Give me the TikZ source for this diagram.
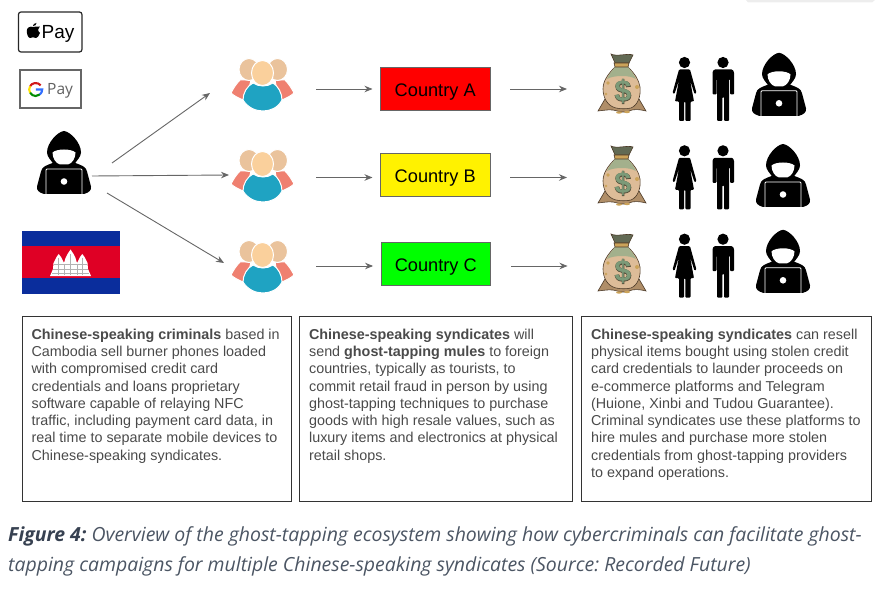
\documentclass[tikz,border=0pt]{standalone}
\usepackage{fontspec}
\setmainfont{Liberation Sans}
\newfontfamily\capfont{Open Sans}
\newfontfamily\payfont{Open Sans}
\newfontfamily\dollarfat[FakeBold=2.5]{Liberation Sans Bold}
\usetikzlibrary{arrows.meta}
\definecolor{txtGray}{HTML}{4A4A4A}
\definecolor{capGray}{HTML}{4B5563}
\definecolor{capDark}{HTML}{374151}
\definecolor{arrGray}{HTML}{666666}
\definecolor{khBlue}{HTML}{0A2D9C}
\definecolor{khRed}{HTML}{DF0025}
\definecolor{salmonC}{HTML}{EF8070}
\definecolor{headC}{HTML}{EAC39C}
\definecolor{faceC}{HTML}{FAD09C}
\definecolor{tealC}{HTML}{1FA3C2}
\definecolor{bagTan}{HTML}{DDBC98}
\definecolor{bagDark}{HTML}{4C3A28}
\definecolor{bagFlare}{HTML}{B08E68}
\definecolor{bagGreen}{HTML}{A3B08C}
\definecolor{bagGold}{HTML}{CBA35A}
\definecolor{dollarC}{HTML}{7C9A78}
\tikzstyle{countryNode} = [rectangle, minimum width=109.5pt, minimum height=42.5pt, inner sep=0pt, text height=15.5pt, text depth=1pt, draw=arrGray, line width=0.9pt, text=black, font=\fontsize{18.2}{20}\selectfont]
\tikzstyle{txtNode} = [rectangle, anchor=north west, draw=black!80, line width=1.2pt, inner xsep=9.5pt, inner ysep=0pt, text=txtGray, font=\fontsize{14.35}{17.25}\selectfont]
\tikzstyle{iconNode} = [inner sep=0pt, minimum width=54pt, minimum height=63pt]
\tikzstyle{arrow} = [line width=0.9pt, draw=arrGray, -{Stealth[length=8pt,width=6.5pt]}]
\tikzset{
  hackerIcon/.pic={
    \fill[black] (0,-31.5) .. controls (-6,-31) and (-17,-20) .. (-17,-10) .. controls (-17,-6) and (-13,-2) .. (-10,2) -- (10,2) .. controls (13,-2) and (17,-6) .. (17,-10) .. controls (17,-20) and (6,-31) .. (0,-31.5) -- cycle;
    \fill[black] (-10,0) .. controls (-18,3) and (-22,4) .. (-23,9) -- (-27,24) .. controls (-27.5,28) and (-25,30) .. (-20,31.5) -- (20,31.5) .. controls (25,30) and (27.5,28) .. (27,24) -- (23,9) .. controls (22,4) and (18,3) .. (10,0) -- cycle;
    \fill[white] (-11.5,-10) .. controls (-7,-14) and (7,-14) .. (11.5,-10) .. controls (11.5,-4) and (8,1) .. (4,2) -- (-4,2) .. controls (-8,1) and (-11.5,-4) .. (-11.5,-10) -- cycle;
    \draw[white, line width=0.8pt, fill=black, rounded corners=1pt] (-18,31.5) -- (-18,6.5) -- (18,6.5) -- (18,31.5);
    \fill[white] (0,19) circle (3.3pt);
  },
  peopleIcon/.pic={
    \begin{scope}[draw=white, line width=1pt]
    \filldraw[fill=salmonC] (-12,-4) -- (-23,-4) .. controls (-27,0) and (-30,5) .. (-32,9) .. controls (-29,12) and (-23,15) .. (-17,17) -- cycle;
    \filldraw[fill=salmonC] (12,-4) -- (22,-4) .. controls (26,0) and (29,5) .. (31,9) .. controls (28,12) and (22,15) .. (16,17) -- cycle;
    \filldraw[fill=headC] (-14,-14.5) ellipse (10pt and 11pt);
    \filldraw[fill=headC] (14.5,-14.5) ellipse (10pt and 11pt);
    \filldraw[fill=tealC] (-10,-1) .. controls (-16,2) and (-20,9) .. (-20,16) .. controls (-15,24) and (-7,27) .. (0,27) .. controls (7,27) and (15,24) .. (19,16) .. controls (19,9) and (15,2) .. (10,-1) .. controls (4,3) and (-4,3) .. (-10,-1) -- cycle;
    \filldraw[fill=faceC] (-0.5,-11) ellipse (11pt and 12.5pt);
    \end{scope}
  },
  bagIcon/.pic={
    \filldraw[fill=bagFlare, draw=bagDark, line width=0.6pt] (-17,15) -- (-24,27) .. controls (-16,26) and (-10,25) .. (-5,27) .. controls (0,29) and (6,28) .. (10,26) .. controls (15,25) and (20,26) .. (24,27) -- (17,15) -- cycle;
    \filldraw[fill=bagTan, draw=bagDark, line width=0.6pt] (-7,-17) .. controls (-14,-10) and (-19,-3) .. (-19,5) .. controls (-19,13) and (-15,22) .. (-6,24) .. controls (-2,25) and (5,25) .. (9,24) .. controls (16,21) and (19,12) .. (18,3) .. controls (17,-4) and (13,-10) .. (6,-17) -- cycle;
    \fill[bagGreen] (-7,-17) .. controls (-10,-13) and (-13,-10) .. (-15,-5) .. controls (-8,-9) and (8,-9) .. (14,-5) .. controls (12,-10) and (9,-13) .. (6,-17) -- cycle;
    \filldraw[fill=bagGreen!60!black, draw=bagDark, line width=0.6pt] (-11,-30) .. controls (-5,-27) and (5,-31) .. (11,-29) -- (7,-21) -- (-7,-21) -- cycle;
    \filldraw[fill=bagGold, draw=bagDark, line width=0.6pt] (-8,-21) -- (7,-21) -- (6,-17) -- (-7,-17) -- cycle;
    \fill[bagGold] (-14,-1) circle (1.8pt) (15,3) circle (2pt) (-16,10) circle (1.4pt) (-3,28.5) ellipse (3pt and 1.2pt) (5,28) ellipse (3pt and 1.2pt);
    \node[inner sep=0pt, text=bagDark!70!bagGreen!80!black, font=\fontsize{30}{30}\dollarfat] at (1,7.5) {\$};
    \node[inner sep=0pt, text=dollarC, font=\fontsize{30}{30}\bfseries] at (1,7.5) {\$};
  },
  muleIcon/.pic={
    % woman
    \fill[black] (-19.5,-26.5) circle (5.6pt);
    \fill[black, rounded corners=1pt] (-25,-19.5) -- (-14,-19.5) -- (-7.5,4) -- (-9.5,5) -- (-14,-9) -- (-10,12.5) -- (-13.5,12.5) -- (-13.5,32) -- (-18.7,32) -- (-18.7,12.5) -- (-20,12.5) -- (-20,32) -- (-25,32) -- (-25,12.5) -- (-29,12.5) -- (-25,-9) -- (-29.5,5) -- (-31.5,4) -- cycle;
    % man
    \fill[black] (19,-26.5) circle (5.6pt);
    \fill[black, rounded corners=1pt] (10,-19.5) -- (28.5,-19.5) -- (30,-17) -- (30,5.5) -- (26,5.5) -- (26,-10) -- (25,-10) -- (25,32) -- (20,32) -- (20,8) -- (18.3,8) -- (18.3,32) -- (13,32) -- (13,-10) -- (12.5,-10) -- (12.5,5.5) -- (8.5,5.5) -- (8.5,-17) -- cycle;
  },
}
\begin{document}
\begin{tikzpicture}[x=1pt, y=-1pt]
    \useasboundingbox (0,0) rectangle (882,593);
    \fill[black!7] (746,0) -- (748,2.5) -- (872,2.5) -- (875,0) -- cycle;

    % payment marks
    \node (apple) [draw=black!85, line width=1.2pt, rounded corners=2.5pt, minimum width=63.5pt, minimum height=40pt, inner sep=0pt] at (50.2,32) {};
    \fill[black] (33.2,27) .. controls (35,26) and (37,27) .. (39.8,26.5) .. controls (38,28) and (37.2,31) .. (40,33) .. controls (39,36) and (37.5,38) .. (36,38) .. controls (34.5,38) and (34,37.3) .. (33,37.3) .. controls (32,37.3) and (31.5,38) .. (30,38) .. controls (28,38) and (26.5,33) .. (26.8,30.5) .. controls (27,27.5) and (30,26) .. (33.2,27) -- cycle;
    \fill[black] (33,26) .. controls (33,24.5) and (34.5,23) .. (36.5,23) .. controls (36.5,25) and (35,26) .. (33,26) -- cycle;
    \node (applePay) [inner sep=0pt, anchor=base west, font=\fontsize{19}{22}\selectfont] at (41.5,38.3) {Pay};

    \node (google) [draw=black!60, line width=1.7pt, minimum width=60.5pt, minimum height=37.5pt, inner sep=0pt] at (50.5,89) {};
    \draw[line width=2.1pt, color=red!80!black!90] ({35.7+6.5*cos(40)},{89.5-6.5*sin(40)}) arc[start angle=40, end angle=150, radius=6.5pt];
    \draw[line width=2.1pt, color=yellow!85!orange] ({35.7+6.5*cos(150)},{89.5-6.5*sin(150)}) arc[start angle=150, end angle=210, radius=6.5pt];
    \draw[line width=2.1pt, color=green!55!black] ({35.7+6.5*cos(210)},{89.5-6.5*sin(210)}) arc[start angle=210, end angle=310, radius=6.5pt];
    \draw[line width=2.1pt, color=blue!70!cyan!80] ({35.7+6.5*cos(310)},{89.5-6.5*sin(310)}) arc[start angle=310, end angle=360, radius=6.5pt] -- (35.9,89.5);
    \node (googlePay) [inner sep=0pt, anchor=base west, text=black!62, font=\fontsize{15.5}{18}\payfont] at (47,95) {Pay};

    % flag
    \fill[khBlue] (22,231) rectangle (119.5,293.5);
    \fill[khRed] (22,246.5) rectangle (119.5,278);
    \fill[white] (50,276) -- (53,269) -- (53.5,263) -- (55,260) -- (56.5,257) -- (58.7,254) -- (61,257) -- (62.5,260) -- (64,263) -- (65.5,258) -- (67.5,254) -- (70.5,249.5) -- (73.5,254) -- (75.5,258) -- (77,263) -- (78.5,260) -- (80,257) -- (82.3,254) -- (84.5,257) -- (86,260) -- (87.5,263) -- (88,269) -- (91,276) -- cycle;
    \draw[black!30, line width=0.5pt] (54,264) -- (87,264) (53,269) -- (88,269) (52,273) -- (89,273) (58.7,258) -- (58.7,275) (64,264) -- (64,275) (70.5,254) -- (70.5,275) (77,264) -- (77,275) (82.3,258) -- (82.3,275);

    % hacker and groups
    \node (hack) [iconNode] at (64,162.5) {};
    \pic at (hack) {hackerIcon};
    \node (grpA) [iconNode, minimum width=62pt, minimum height=52pt] at (263,84) {};
    \node (grpB) [iconNode, minimum width=62pt, minimum height=52pt] at (263,175) {};
    \node (grpC) [iconNode, minimum width=62pt, minimum height=52pt] at (263,266) {};
    \pic at (grpA) {peopleIcon};
    \pic at (grpB) {peopleIcon};
    \pic at (grpC) {peopleIcon};

    \node (ctryA) [countryNode, fill=red] at (435.2,89.2) {Country A};
    \node (ctryB) [countryNode, fill=yellow] at (435.2,174.8) {Country B};
    \node (ctryC) [countryNode, fill=green] at (435.8,264) {Country C};

    \node (bagA) [iconNode, minimum width=48pt] at (622,84) {};
    \node (bagB) [iconNode, minimum width=48pt] at (622,176) {};
    \node (bagC) [iconNode, minimum width=48pt] at (622,264) {};
    \pic at (bagA) {bagIcon};
    \pic at (bagB) {bagIcon};
    \pic at (bagC) {bagIcon};

    \node (muleA) [iconNode] at (704,89) {};
    \node (muleB) [iconNode] at (704,177.3) {};
    \node (muleC) [iconNode] at (704,265.7) {};
    \pic at (muleA) {muleIcon};
    \pic at (muleB) {muleIcon};
    \pic at (muleC) {muleIcon};

    \node (hackA) [iconNode] at (779,84.3) {};
    \node (hackB) [iconNode] at (783,175.5) {};
    \node (hackC) [iconNode] at (783,261.3) {};
    \pic at (hackA) {hackerIcon};
    \pic at (hackB) {hackerIcon};
    \pic at (hackC) {hackerIcon};

    % arrows
    \coordinate (outA) at (112,163);
    \coordinate (outB) at (92,176);
    \coordinate (outC) at (107,193);
    \coordinate (inA) at (210,93);
    \coordinate (inB) at (229,175);
    \coordinate (inC) at (224,263);
    \coordinate (bagInA) at (567,89);
    \coordinate (bagInB) at (567,177.5);
    \coordinate (bagInC) at (567.5,266);
    \coordinate (grpOutA) at (316,89);
    \coordinate (grpOutB) at (316,177.5);
    \coordinate (grpOutC) at (316,266);
    \draw [arrow] (outA) -- (inA);
    \draw [arrow] (outB) -- (inB);
    \draw [arrow] (outC) -- (inC);
    \draw [arrow, shorten >=7.5pt] (grpOutA) -- (grpOutA -| ctryA.west);
    \draw [arrow, shorten >=7.5pt] (grpOutB) -- (grpOutB -| ctryB.west);
    \draw [arrow, shorten >=7.5pt] (grpOutC) -- (grpOutC -| ctryC.west);
    \draw [arrow, shorten <=20pt] (ctryA.east |- bagInA) -- (bagInA);
    \draw [arrow, shorten <=20pt] (ctryB.east |- bagInB) -- (bagInB);
    \draw [arrow, shorten <=20pt] (ctryC.east |- bagInC) -- (bagInC);

    % text boxes
    \node (txtA) [txtNode] at (21.5,315.5) {\parbox[t][185pt][t]{250pt}{\rule{0pt}{23.3pt}\textbf{Chinese-speaking criminals} based in\\
      Cambodia sell burner phones loaded\\
      with compromised credit card\\
      credentials and loans proprietary\\
      software capable of relaying NFC\\
      traffic, including payment card data, in\\
      real time to separate mobile devices to\\
      Chinese-speaking syndicates.}};
    \node (txtB) [txtNode] at (299,315.5) {\parbox[t][185pt][t]{254pt}{\rule{0pt}{23.3pt}\textbf{Chinese-speaking syndicates} will\\
      send \textbf{ghost-tapping mules} to foreign\\
      countries, typically as tourists, to\\
      commit retail fraud in person by using\\
      ghost-tapping techniques to purchase\\
      goods with high resale values, such as\\
      luxury items and electronics at physical\\
      retail shops.}};
    \node (txtC) [txtNode] at (581,315.5) {\parbox[t][185pt][t]{271pt}{\rule{0pt}{23.3pt}\textbf{Chinese-speaking syndicates} can resell\\
      physical items bought using stolen credit\\
      card credentials to launder proceeds on\\
      e-commerce platforms and Telegram\\
      (Huione, Xinbi and Tudou Guarantee).\\
      Criminal syndicates use these platforms to\\
      hire mules and purchase more stolen\\
      credentials from ghost-tapping providers\\
      to expand operations.}};

    % caption
    \node (caption) [anchor=north west, inner sep=0pt, align=left, text=capGray, font=\fontsize{19.45}{30}\capfont\itshape\frenchspacing] at (8,526.5) {\textcolor{capDark}{\textbf{Figure 4:}} Overview of the ghost-tapping ecosystem showing how cybercriminals can facilitate ghost-\\
      tapping campaigns for multiple Chinese-speaking syndicates (Source: Recorded Future)};
\end{tikzpicture}
\end{document}
